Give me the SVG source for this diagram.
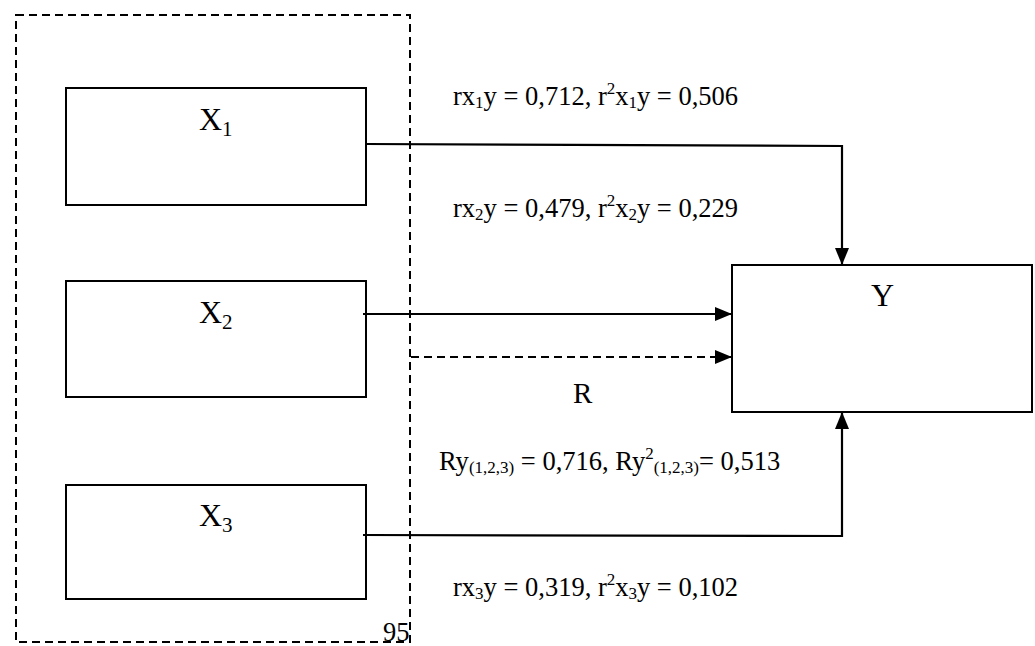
<svg xmlns="http://www.w3.org/2000/svg" width="1035" height="646" viewBox="0 0 1035 646">
<style>
.box{fill:#fff;stroke:#000;stroke-width:2}
.frame{fill:none;stroke:#000;stroke-width:2;stroke-dasharray:8 5}
.conn{fill:none;stroke:#000;stroke-width:2.2}
.dash{stroke-dasharray:8 5}
text{font-family:"Liberation Serif","Times New Roman",serif;fill:#000}
.lbl{font-size:32px}
.val{font-size:26.5px}
.big{font-size:29px}
</style>
<defs>
<marker id="ah" markerUnits="userSpaceOnUse" markerWidth="17" markerHeight="14" refX="17" refY="7" orient="auto">
<path d="M0,0 L17,7 L0,14 z" fill="#000"/>
</marker>
</defs>
<rect class="frame" x="16" y="15" width="394" height="627"/>
<g id="X1"><rect class="box" x="66" y="88" width="300" height="117"/><text class="lbl" x="199" y="130">X<tspan font-size="21" dy="6">1</tspan></text></g>
<g id="X2"><rect class="box" x="66" y="281" width="300" height="116"/><text class="lbl" x="199" y="323">X<tspan font-size="21" dy="6">2</tspan></text></g>
<g id="X3"><rect class="box" x="66" y="485" width="300" height="114"/><text class="lbl" x="199" y="526">X<tspan font-size="21" dy="6">3</tspan></text></g>
<g id="Y"><rect class="box" x="732" y="265" width="300" height="147"/><text class="lbl" x="871" y="306">Y</text></g>
<g id="connectors">
<polyline class="conn" points="366,144 842,146 842,265" marker-end="url(#ah)"/>
<line class="conn" x1="363" y1="314" x2="732" y2="314" marker-end="url(#ah)"/>
<line class="conn dash" x1="411" y1="357" x2="732" y2="357" marker-end="url(#ah)"/>
<polyline class="conn" points="363,535 842,536 842,412" marker-end="url(#ah)"/>
</g>
<g id="labels">
<text class="val" x="453" y="105">rx<tspan font-size="17" dy="3">1</tspan><tspan dy="-3">y = 0,712, r</tspan><tspan font-size="17" dy="-11">2</tspan><tspan dy="11">x</tspan><tspan font-size="17" dy="3">1</tspan><tspan dy="-3">y = 0,506</tspan></text>
<text class="val" x="453" y="217">rx<tspan font-size="17" dy="3">2</tspan><tspan dy="-3">y = 0,479, r</tspan><tspan font-size="17" dy="-11">2</tspan><tspan dy="11">x</tspan><tspan font-size="17" dy="3">2</tspan><tspan dy="-3">y = 0,229</tspan></text>
<text class="big" x="573" y="403">R</text>
<text class="val" x="439" y="470">Ry<tspan font-size="17" dy="3">(1,2,3)</tspan><tspan dy="-3"> = 0,716, Ry</tspan><tspan font-size="17" dy="-11">2</tspan><tspan font-size="17" dy="14">(1,2,3)</tspan><tspan dy="-3">= 0,513</tspan></text>
<text class="val" x="453" y="596">rx<tspan font-size="17" dy="3">3</tspan><tspan dy="-3">y = 0,319, r</tspan><tspan font-size="17" dy="-11">2</tspan><tspan dy="11">x</tspan><tspan font-size="17" dy="3">3</tspan><tspan dy="-3">y = 0,102</tspan></text>
<text class="val" x="383" y="641">95</text>
</g>
</svg>
